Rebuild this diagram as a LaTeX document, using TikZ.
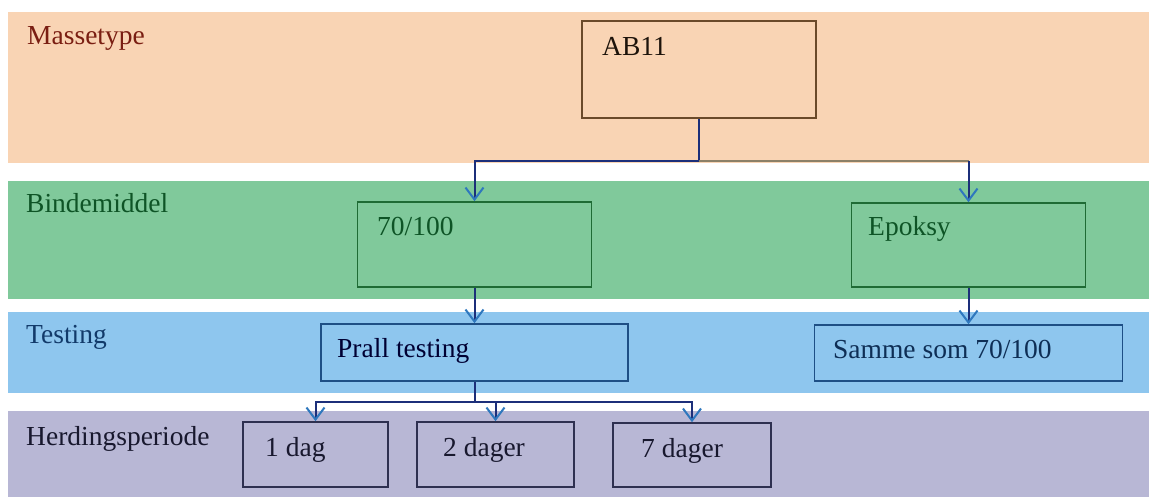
\documentclass[tikz,border=0pt]{standalone}
\usepackage{fontspec}
\setmainfont{Liberation Serif}
\newfontfamily\tmsfont{Liberation Serif}
\usetikzlibrary{arrows.meta}
\definecolor{bandO}{HTML}{F9D4B4}
\definecolor{bandG}{HTML}{80C99B}
\definecolor{bandB}{HTML}{8EC6EE}
\definecolor{bandP}{HTML}{B8B7D5}
\definecolor{txtO}{HTML}{7A1E12}
\definecolor{txtG}{HTML}{0E5426}
\definecolor{txtB}{HTML}{123A6A}
\definecolor{txtP}{HTML}{18182E}
\definecolor{brdO}{HTML}{6B4A2A}
\definecolor{brdG}{HTML}{1F6B35}
\definecolor{brdB}{HTML}{1E4F85}
\definecolor{brdP}{HTML}{2E3050}
\definecolor{lineC}{HTML}{1C2F7A}
\definecolor{lineR}{HTML}{8C8068}
\definecolor{tipC}{HTML}{2F78BE}
\begin{document}
\begin{tikzpicture}[x=1pt,y=-1pt,
  font=\tmsfont\fontsize{27.5}{32}\selectfont,
  lbl/.style={anchor=base west, inner sep=0pt},
  boxO/.style={draw=brdO, line width=1.6pt, inner sep=0pt},
  boxG/.style={draw=brdG, line width=1.6pt, inner sep=0pt},
  boxB/.style={draw=brdB, line width=1.6pt, inner sep=0pt},
  boxP/.style={draw=brdP, line width=1.6pt, inner sep=0pt},
  conn/.style={draw=lineC, line width=2pt},
  arr/.style={draw=lineC, line width=2pt, -{Straight Barb[length=12pt,width=18pt,color=tipC,line width=2pt]}}
]
\useasboundingbox (0,0) rectangle (1149,497);
\fill[white] (0,0) rectangle (1149,497);
% bands
\fill[bandO] (8,12) rectangle (1149,163);
\fill[bandG] (8,181) rectangle (1149,299);
\fill[bandB] (8,312) rectangle (1149,393);
\fill[bandP] (8,411) rectangle (1149,497);
% band labels
\node[lbl, text=txtO] (lm) at (27,45) {Massetype};
\node[lbl, text=txtG] (lb) at (26,213) {Bindemiddel};
\node[lbl, text=txtB] (lt) at (26,343) {Testing};
\node[lbl, text=txtP] (lh) at (26,445) {Herdingsperiode};
% boxes
\node[boxO, minimum width=234pt, minimum height=97pt] (ab) at (699,69.5) {};
\node[boxG, minimum width=234pt, minimum height=85pt] (b70) at (474.5,244.5) {};
\node[boxG, minimum width=234pt, minimum height=84pt] (bep) at (968.5,245) {};
\node[boxB, minimum width=307pt, minimum height=57pt] (prall) at (474.5,352.5) {};
\node[boxB, minimum width=308pt, minimum height=56pt] (samme) at (968.5,353) {};
\node[boxP, minimum width=145pt, minimum height=65pt] (d1) at (315.5,454.5) {};
\node[boxP, minimum width=157pt, minimum height=65pt] (d2) at (495.5,454.5) {};
\node[boxP, minimum width=158pt, minimum height=64pt] (d7) at (692,455) {};
% box texts
\node[lbl, text=black!85!brown] (tab) at (602,56) {AB11};
\node[lbl, text=txtG] (t70) at (377,236) {70/100};
\node[lbl, text=txtG] (tep) at (868,236) {Epoksy};
\node[lbl, text=black!80!blue] (tpr) at (337,357) {Prall testing};
\node[lbl, text=txtB!80!black] (tsa) at (833,358) {Samme som 70/100};
\node[lbl, text=txtP] (td1) at (265,456) {1 dag};
\node[lbl, text=txtP] (td2) at (443,456) {2 dager};
\node[lbl, text=txtP] (td7) at (641,457) {7 dager};
% connectors
\coordinate (j1) at (699,161);
\coordinate (j1r) at (968.5,161);
\draw[conn] (ab.south) -- (j1);
\draw[arr] (j1) -| (b70.north);
\draw[draw=lineR, line width=2pt] (j1) -- (j1r);
\draw[arr] (j1r) -- (bep.north);
\draw[arr] (b70.south) -- (prall.north);
\draw[arr] (bep.south) -- (samme.north);
\coordinate (j2) at (474.5,402);
\draw[conn] (prall.south) -- (j2);
\draw[arr] (j2) -| (d1.north);
\draw[arr] (j2) -| (d2.north);
\draw[arr] (j2) -| (d7.north);
\end{tikzpicture}
\end{document}
